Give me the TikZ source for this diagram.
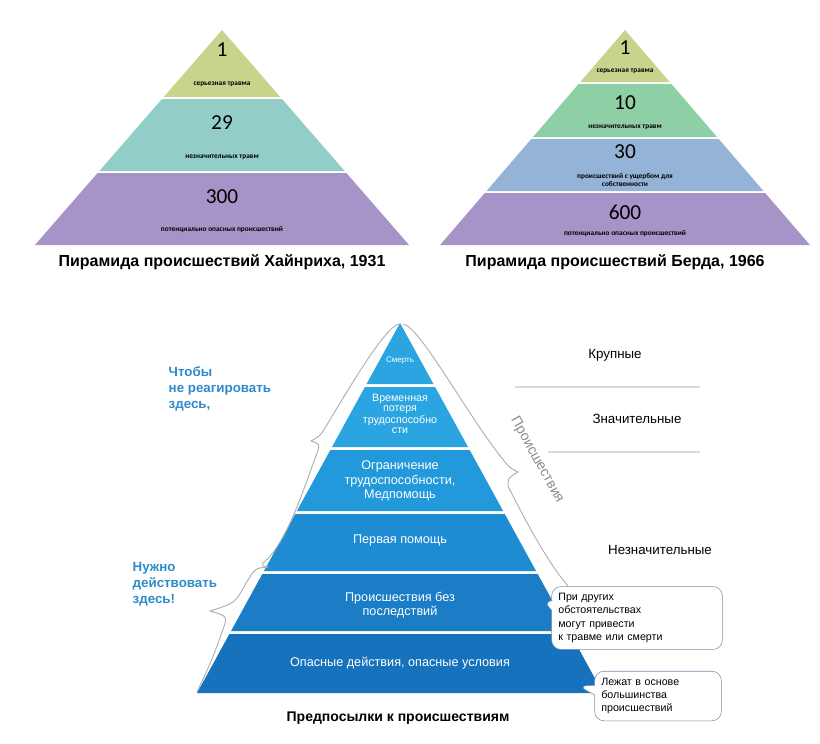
\documentclass[tikz,border=0pt]{standalone}
\usepackage{fontspec}
\setmainfont{Liberation Sans}
\newfontfamily\numfont{Carlito}
\usetikzlibrary{positioning,shapes.callouts}

\definecolor{olivebnd}{HTML}{C8D48C}
\definecolor{tealbnd}{HTML}{92CDC8}
\definecolor{greenbnd}{HTML}{8FCFA6}
\definecolor{steelbnd}{HTML}{94B3D6}
\definecolor{lilacbnd}{HTML}{A693C7}
\definecolor{skyA}{HTML}{2BA5E2}
\definecolor{skyB}{HTML}{2299DA}
\definecolor{skyC}{HTML}{1E8CD2}
\definecolor{skyD}{HTML}{1A7DC6}
\definecolor{skyE}{HTML}{1672BD}
\definecolor{callblue}{HTML}{2E8BCB}
\definecolor{bracegrey}{HTML}{8C8C8C}

\tikzset{
  count/.style={font=\numfont\fontsize{16}{17}\selectfont},
  tiny/.style={font=\numfont\bfseries\fontsize{5.5}{6.5}\selectfont, align=center},
  caption/.style={font=\bfseries\fontsize{12}{14}\selectfont},
  inband/.style={text=white, align=center, font=\fontsize{9.5}{11}\selectfont},
  hint/.style={text=callblue, align=left, font=\bfseries\fontsize{10}{12}\selectfont},
  level/.style={font=\fontsize{10}{12}\selectfont},
  brace/.style={draw=bracegrey!70, line width=0.7pt},
  remark/.style={rectangle callout, draw=steelbnd!80!black, fill=white, rounded corners=7pt,
    align=left, inner sep=5pt, font=\fontsize{8}{10}\selectfont},
}

\begin{document}
\begin{tikzpicture}[x=0.75pt,y=-0.75pt]
  \useasboundingbox (0,0) rectangle (820,743);

  % Heinrich
  \foreach \ya/\yb/\c in {30/97/olivebnd, 99/171/tealbnd, 173/245/lilacbnd} {
    \pgfmathsetmacro\wa{(\ya-30)*0.87}
    \pgfmathsetmacro\wb{(\yb-30)*0.87}
    \fill[\c] ({222-\wa},\ya) -- ({222+\wa},\ya) -- ({222+\wb},\yb) -- ({222-\wb},\yb) -- cycle;
  }
  \node[count] (h1) at (222,50) {1};
  \node[tiny] (h1t) at (222,84) {серьезная травма};
  \node[count] (h29) at (222,123) {29};
  \node[tiny] (h29t) at (222,157) {незначительных травм};
  \node[count] (h300) at (222,197) {300};
  \node[tiny] (h300t) at (222,230) {потенциально опасных происшествий};
  \node[caption] (hcap) at (222,262) {Пирамида происшествий Хайнриха, 1931};

  % Bird
  \foreach \ya/\yb/\c in {30/82/olivebnd, 84/137/greenbnd, 139/191/steelbnd, 193/245/lilacbnd} {
    \pgfmathsetmacro\wa{(\ya-30)*0.86}
    \pgfmathsetmacro\wb{(\yb-30)*0.86}
    \fill[\c] ({625-\wa},\ya) -- ({625+\wa},\ya) -- ({625+\wb},\yb) -- ({625-\wb},\yb) -- cycle;
  }
  \node[count] (b1) at (625,48) {1};
  \node[tiny] (b1t) at (625,71) {серьезная травма};
  \node[count] (b10) at (625,103) {10};
  \node[tiny] (b10t) at (625,127) {незначительных травм};
  \node[count] (b30) at (625,152) {30};
  \node[tiny] (b30t) at (625,180) {происшествий с ущербом для\\собственности};
  \node[count] (b600) at (625,212) {600};
  \node[tiny] (b600t) at (625,234) {потенциально опасных происшествий};
  \node[caption] (bcap) at (615,262) {Пирамида происшествий Берда, 1966};

  % safety pyramid
  \foreach \ya/\yb/\c in {323/384/skyA, 387/447/skyA, 450/511/skyB, 514/571/skyC, 574/631/skyD, 634/693/skyE} {
    \pgfmathsetmacro\wa{(\ya-323)*0.5486}
    \pgfmathsetmacro\wb{(\yb-323)*0.5486}
    \fill[\c] ({400-\wa},\ya) -- ({400+\wa},\ya) -- ({400+\wb},\yb) -- ({400-\wb},\yb) -- cycle;
  }
  \node[inband, font=\fontsize{6}{7}\selectfont] (death) at (400,361) {Смерть};
  \node[inband, font=\fontsize{8}{7.5}\selectfont] (temp) at (400,414) {Временная\\потеря\\трудоспособно\\сти};
  \node[inband] (limit) at (400,481) {Ограничение\\трудоспособности,\\Медпомощь};
  \node[inband] (first) at (400,540) {Первая помощь};
  \node[inband] (nocons) at (400,605) {Происшествия без\\последствий};
  \node[inband] (danger) at (400,663) {Опасные действия, опасные условия};
  \node[caption, font=\bfseries\fontsize{10.5}{12}\selectfont] (pcap) at (398,718) {Предпосылки к происшествиям};

  \node[hint, anchor=north west] (dont) at (164,362) {Чтобы\\не реагировать\\здесь,};
  \node[hint, anchor=north west] (act) at (128,558) {Нужно\\действовать\\здесь!};

  \node[level] (major) at (615,355) {Крупные};
  \node[level] (signif) at (637,419) {Значительные};
  \node[level] (minor) at (660,550) {Незначительные};
  \draw[black!15, line width=0.8pt] (515,387) -- (700,387);
  \draw[black!15, line width=0.8pt] (548,452) -- (700,452);

  % braces
  \draw[brace] (399,324) .. controls (385,326) and (345,395) .. (325,428)
    .. controls (320,436) .. (311,441) .. controls (320,444) .. (317,453)
    .. controls (300,500) and (285,545) .. (263,563) .. controls (262,566) .. (268,567);
  \draw[brace] (268,567) .. controls (255,568) .. (245,585)
    .. controls (235,603) .. (210,611) .. controls (228,616) .. (222,632)
    .. controls (212,660) .. (197,692);
  \draw[brace] (403,324) .. controls (420,326) and (470,420) .. (505,462)
    .. controls (510,468) .. (518,472) .. controls (508,478) .. (508,486)
    .. controls (530,530) and (550,565) .. (568,586);
  \node[rotate=-61, text=bracegrey, font=\fontsize{10.5}{12}\selectfont] (incid) at (537,460) {Происшествия};

  \node[remark, text width=118pt, callout absolute pointer={(543,601)}] (other) at (637,618)
    {При других\\обстоятельствах\\могут привести\\к травме или смерти};
  \node[remark, text width=85pt, callout absolute pointer={(578,686)}] (basis) at (658,696)
    {Лежат в основе\\большинства\\происшествий};
\end{tikzpicture}
\end{document}
